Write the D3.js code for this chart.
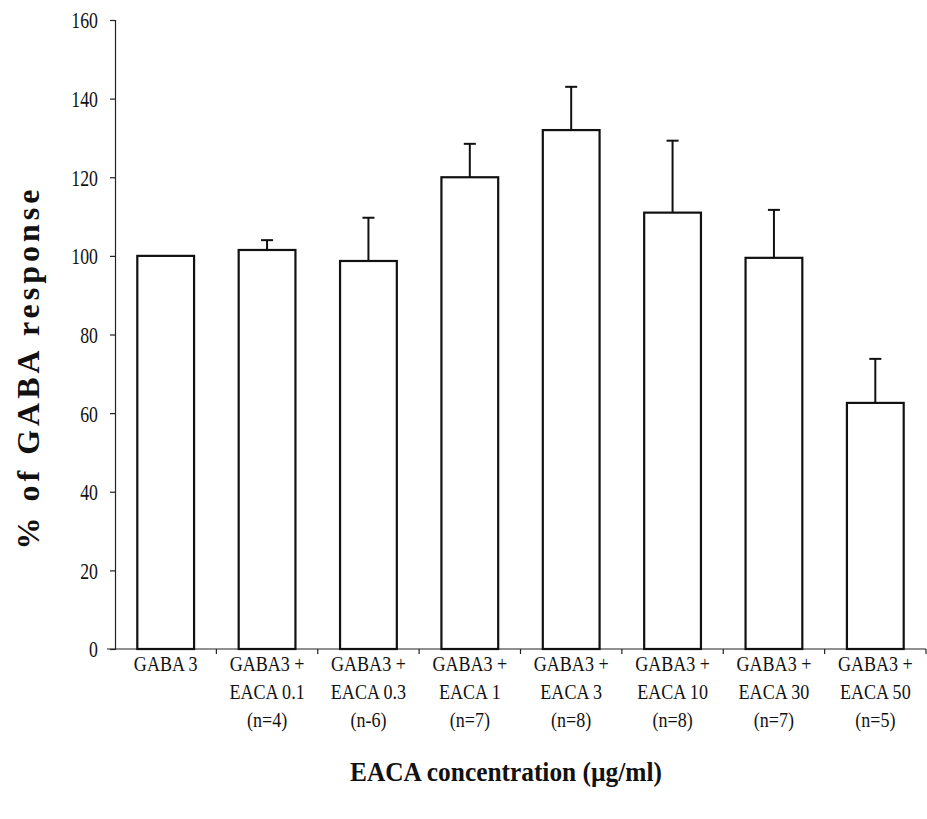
<!DOCTYPE html>
<html>
<head>
<meta charset="utf-8">
<script src="https://cdn.jsdelivr.net/npm/d3@7"></script>
<style>
  html, body { margin: 0; padding: 0; background: #fff; }
</style>
</head>
<body>
<svg id="chart" width="927" height="819"></svg>
<script>
// Group labels (each line drawn separately under its bar)
const line1 = ["GABA 3", "GABA3 +", "GABA3 +", "GABA3 +", "GABA3 +", "GABA3 +", "GABA3 +", "GABA3 +"];
const line2 = ["", "EACA 0.1", "EACA 0.3", "EACA 1", "EACA 3", "EACA 10", "EACA 30", "EACA 50"];
const line3 = ["", "(n=4)", "(n-6)", "(n=7)", "(n=8)", "(n=8)", "(n=7)", "(n=5)"];

// Mean response (% of GABA response) and upper error (mean + SEM)
const means = [100, 101.5, 98.7, 120, 132, 111, 99.5, 62.6];
const upper = [100, 104, 109.7, 128.5, 143, 129.3, 111.7, 73.8];

const yTicks = [0, 20, 40, 60, 80, 100, 120, 140, 160];

const FONT = "'Liberation Serif', 'Times New Roman', serif";
const INK = "#111";

const svg = d3.select("#chart").attr("font-family", FONT);
const margin = { left: 115, right: 1, top: 20, bottom: 170 };
const W = 927, H = 819;

const x = d3.scaleBand()
  .domain(d3.range(line1.length))
  .range([margin.left, W - margin.right])
  .paddingInner(0.44)
  .paddingOuter(0.22);

const y = d3.scaleLinear()
  .domain([0, 160])
  .range([H - margin.bottom, margin.top]);

// Y axis; tick labels use a narrow, tall serif face
const yAxis = svg.append("g")
  .attr("transform", `translate(${margin.left},0)`)
  .call(d3.axisLeft(y).tickValues(yTicks).tickSize(5).tickPadding(0));
yAxis.attr("font-family", FONT).attr("font-size", 24);
yAxis.select(".domain").attr("stroke", "#222").attr("stroke-width", 1.2);
yAxis.selectAll(".tick line").attr("stroke", "#222").attr("stroke-width", 1.2);
yAxis.selectAll(".tick text")
  .attr("x", 0)
  .attr("dy", "0.33em")
  .attr("transform", "translate(-17,0) scale(0.74,1)")
  .attr("text-anchor", "end")
  .attr("fill", INK);

// X axis with ticks at band boundaries
const xAxisY = y(0);
const xAxisG = svg.append("g");
xAxisG.append("line")
  .attr("x1", margin.left - 8).attr("x2", W - margin.right)
  .attr("y1", xAxisY).attr("y2", xAxisY)
  .attr("stroke", "#222").attr("stroke-width", 1.2);
const step = x.step();
const boundaries = d3.range(1, line1.length + 1).map(i => x(i - 1) + x.bandwidth() + step * x.paddingInner() / 2);
xAxisG.selectAll("line.tk").data(boundaries).join("line")
  .attr("class", "tk")
  .attr("x1", d => d).attr("x2", d => d)
  .attr("y1", xAxisY).attr("y2", xAxisY + 5)
  .attr("stroke", "#222").attr("stroke-width", 1.2);

// Bars
svg.append("g").selectAll("rect").data(means).join("rect")
  .attr("x", (d, i) => x(i))
  .attr("y", d => y(d))
  .attr("width", x.bandwidth())
  .attr("height", d => y(0) - y(d))
  .attr("fill", "#fff")
  .attr("stroke", INK)
  .attr("stroke-width", 2.2);

// Error bars (upper only)
const eb = svg.append("g");
means.forEach((m, i) => {
  if (upper[i] <= m) return;
  const cx = x(i) + x.bandwidth() / 2;
  eb.append("line")
    .attr("x1", cx).attr("x2", cx)
    .attr("y1", y(m)).attr("y2", y(upper[i]))
    .attr("stroke", INK).attr("stroke-width", 2);
  eb.append("line")
    .attr("x1", cx - 6).attr("x2", cx + 6)
    .attr("y1", y(upper[i])).attr("y2", y(upper[i]))
    .attr("stroke", INK).attr("stroke-width", 2);
});

// Category labels (three lines under each bar)
const lab = svg.append("g").attr("font-size", 21).attr("text-anchor", "middle").attr("fill", INK);
[line1, line2, line3].forEach((arr, k) => {
  lab.selectAll(`text.l${k}`).data(arr).join("text")
    .attr("class", `l${k}`)
    .attr("transform", (d, i) => `translate(${x(i) + x.bandwidth() / 2},${xAxisY + 22 + k * 28}) scale(0.86,1)`)
    .text(d => d);
});

// Axis titles
svg.append("text")
  .attr("transform", `translate(39,${(y(0) + y(160)) / 2 + 33}) rotate(-90)`)
  .attr("text-anchor", "middle")
  .attr("font-size", 32)
  .attr("font-weight", "bold")
  .attr("letter-spacing", "4px")
  .attr("fill", INK)
  .text("% of GABA response");

svg.append("text")
  .attr("transform", "translate(506,781) scale(0.94,1)")
  .attr("text-anchor", "middle")
  .attr("font-size", 27)
  .attr("font-weight", "bold")
  .attr("fill", INK)
  .text("EACA concentration (µg/ml)");
</script>
</body>
</html>
